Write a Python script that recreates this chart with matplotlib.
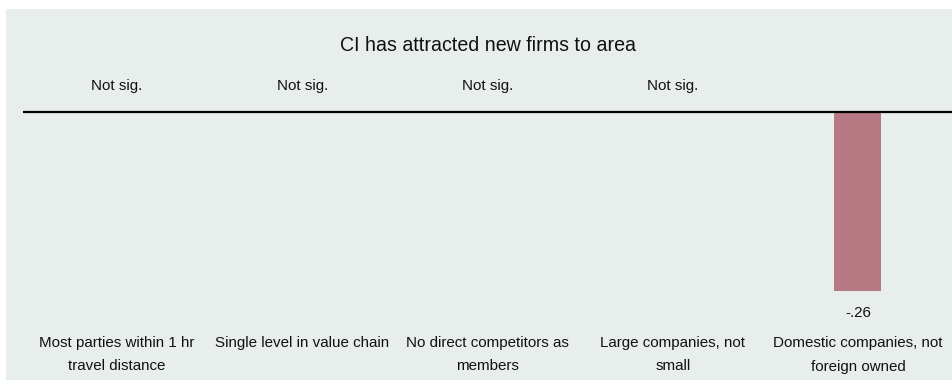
import matplotlib.pyplot as plt
from matplotlib.patches import Rectangle
from matplotlib.transforms import blended_transform_factory

categories = ['Most parties within 1 hr\ntravel distance',
              'Single level in value chain',
              'No direct competitors as\nmembers',
              'Large companies, not\nsmall',
              'Domestic companies, not\nforeign owned']
values = [None, None, None, None, -0.26]
value_labels = ['Not sig.', 'Not sig.', 'Not sig.', 'Not sig.', '-.26']
title = 'CI has attracted new firms to area'

bg = '#e8eeeb'
bar_color = '#b67882'
txt = '#111111'

plt.rcParams['font.family'] = ['Liberation Sans', 'DejaVu Sans']

W, H = 952, 380
fig = plt.figure(figsize=(W / 100, H / 100), dpi=100)
fig.patch.set_facecolor('white')
# panel background, runs off the right and bottom edges
fig.add_artist(Rectangle((6 / W, -0.05), 1.05, (H - 9) / H + 0.05,
                         transform=fig.transFigure, facecolor=bg,
                         edgecolor='none', zorder=0))

ax = fig.add_axes([23 / W, 0, 1 - 23 / W, (H - 9) / H])
ax.patch.set_alpha(0)
ax.set_xlim(-0.508, 4.508)
ax.set_ylim(-0.390, 0.150)
ax.axis('off')


def yfrac(py):
    # pixel row (from top of image) -> axes fraction
    return (H - py) / (H - 9)


ax.axhline(0, color='black', lw=1.6, zorder=3)

trans = blended_transform_factory(ax.transData, ax.transAxes)
fs = 10.9
for i, (cat, v, lab) in enumerate(zip(categories, values, value_labels)):
    if v is None:
        ax.text(i, yfrac(90), lab, transform=trans, ha='center',
                va='baseline', fontsize=fs, color=txt)
    else:
        ax.bar(i, v, width=0.254, color=bar_color, zorder=2)
        ax.annotate(lab, (i, v), xytext=(0, -19), textcoords='offset points',
                    ha='center', va='baseline', fontsize=fs, color=txt)
    for j, line in enumerate(cat.split('\n')):
        ax.text(i, yfrac(347 + 23.5 * j), line, transform=trans,
                ha='center', va='baseline', fontsize=fs, color=txt)

ax.text(0.5, yfrac(51), title, transform=ax.transAxes, ha='center',
        va='baseline', fontsize=14.1, color=txt)

fig.savefig('out.png', dpi=100)
